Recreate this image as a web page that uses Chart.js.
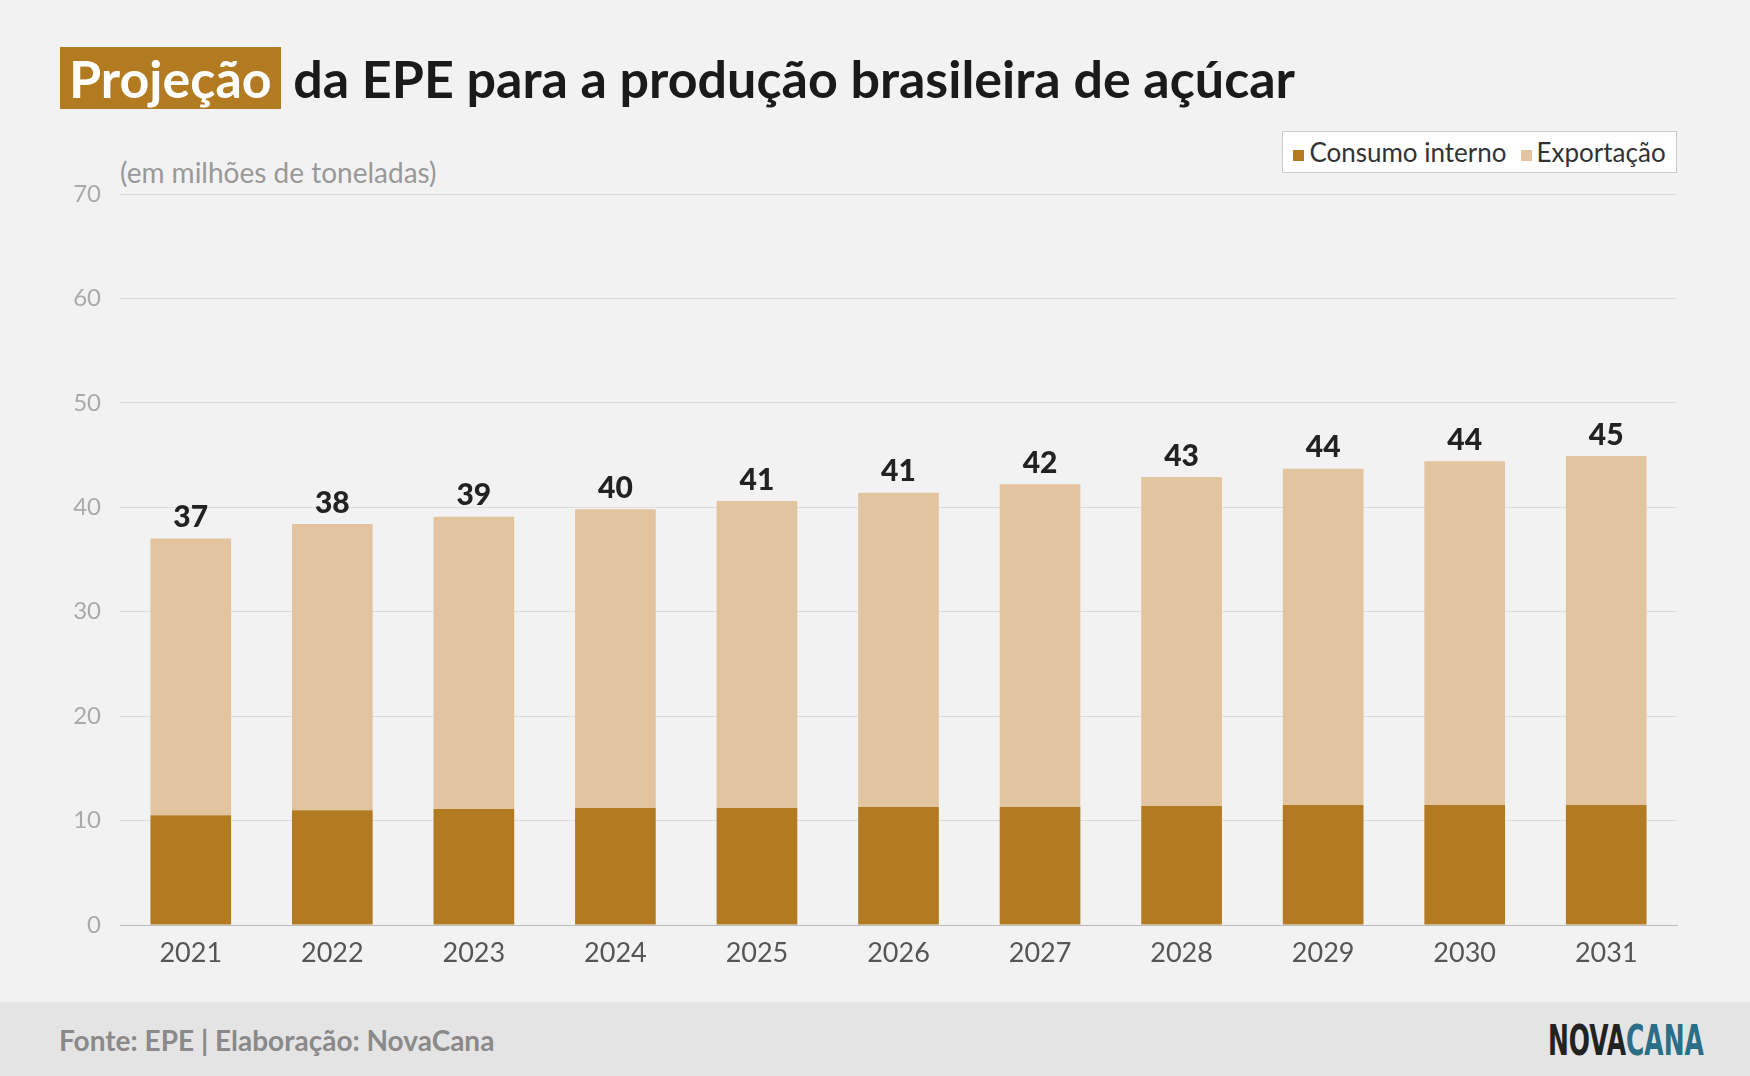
<!DOCTYPE html>
<html><head><meta charset="utf-8">
<script src="https://cdn.jsdelivr.net/npm/chart.js@4"></script>
<style>
body{margin:0;width:1750px;height:1076px;background:#f2f2f2;font-family:Lato,sans-serif;position:relative;overflow:hidden}
#title{position:absolute;left:60px;top:47px;font-size:52px;font-weight:bold;color:#1a1a1a;white-space:nowrap}
#title span.hl{background:#b27b22;color:#fff;padding:0 9px}
#sub{position:absolute;left:120px;top:155px;font-size:28px;color:#999}
#legend{position:absolute;left:1282px;top:131px;width:393px;height:40px;border:1px solid #ccc;background:#fff;font-size:26px;color:#333;display:flex;align-items:center;justify-content:center;gap:14px}
#legend i{display:inline-block;width:11px;height:11px;margin-right:5px;vertical-align:middle}
#footer{position:absolute;left:0;top:1002px;width:1750px;height:74px;background:#e4e4e4}
#src{position:absolute;left:59px;top:21px;font-size:28px;font-weight:bold;color:#8a8a8a}
#logo{position:absolute;left:1548px;top:14px;font-size:42px;font-weight:900;font-family:"DejaVu Sans Condensed","Liberation Sans",sans-serif;transform:scaleX(0.66);transform-origin:left top;white-space:nowrap}
canvas{position:absolute;left:0;top:0}
</style></head><body>
<div id="title"><span class="hl">Projeção</span> da EPE para a produção brasileira de açúcar</div>
<div id="sub">(em milhões de toneladas)</div>
<div id="legend"><span><i style="background:#b27b22"></i>Consumo interno</span><span><i style="background:#e2c5a0"></i>Exportação</span></div>
<canvas id="c" width="1750" height="1002"></canvas>
<div id="footer"><div id="src">Fonte: EPE | Elaboração: NovaCana</div><div id="logo"><span style="color:#222">NOVA</span><span style="color:#2b6e88">CANA</span></div></div>
<script>
const categories=["2021","2022","2023","2024","2025","2026","2027","2028","2029","2030","2031"];
const consumo=[10.5,11.0,11.1,11.2,11.2,11.3,11.3,11.4,11.5,11.5,11.5];
const totais=[37.0,38.4,39.1,39.8,40.6,41.4,42.2,42.9,43.7,44.4,44.9];
const exportacao=totais.map((t,i)=>+(t-consumo[i]).toFixed(1));
const yTicks=[0,10,20,30,40,50,60,70];
const labelPlugin={id:'tot',afterDatasetsDraw(ch){const ctx=ch.ctx,x=ch.scales.x,y=ch.scales.y;ctx.save();ctx.font='900 30px Lato';ctx.fillStyle='#222';ctx.textAlign='center';ctx.textBaseline='bottom';
totais.forEach((t,i)=>ctx.fillText(Math.round(t),x.getPixelForValue(i),y.getPixelForValue(t)-6));ctx.restore();}};
new Chart(document.getElementById('c'),{type:'bar',
data:{labels:categories,datasets:[
{label:'Consumo interno',data:consumo,backgroundColor:'#b27b22'},
{label:'Exportação',data:exportacao,backgroundColor:'#e2c5a0'}]},
options:{responsive:false,animation:false,devicePixelRatio:1,
layout:{padding:{top:194,right:73,left:0,bottom:0}},
plugins:{legend:{display:false},tooltip:{enabled:false}},
datasets:{bar:{categoryPercentage:1,barPercentage:0.57}},
scales:{
x:{stacked:true,grid:{display:false},border:{color:'#bbb'},ticks:{color:'#555',font:{size:27,family:'Lato'},padding:4},afterFit(s){s.height=77}},
y:{stacked:true,min:0,max:70,afterBuildTicks(s){s.ticks=yTicks.map(v=>({value:v}))},grid:{color:'#dcdcdc',drawTicks:false},border:{display:false},ticks:{color:'#aaa',font:{size:24,family:'Lato'},padding:19},afterFit(s){s.width=120}}
}},plugins:[labelPlugin]});
</script>
</body></html>
